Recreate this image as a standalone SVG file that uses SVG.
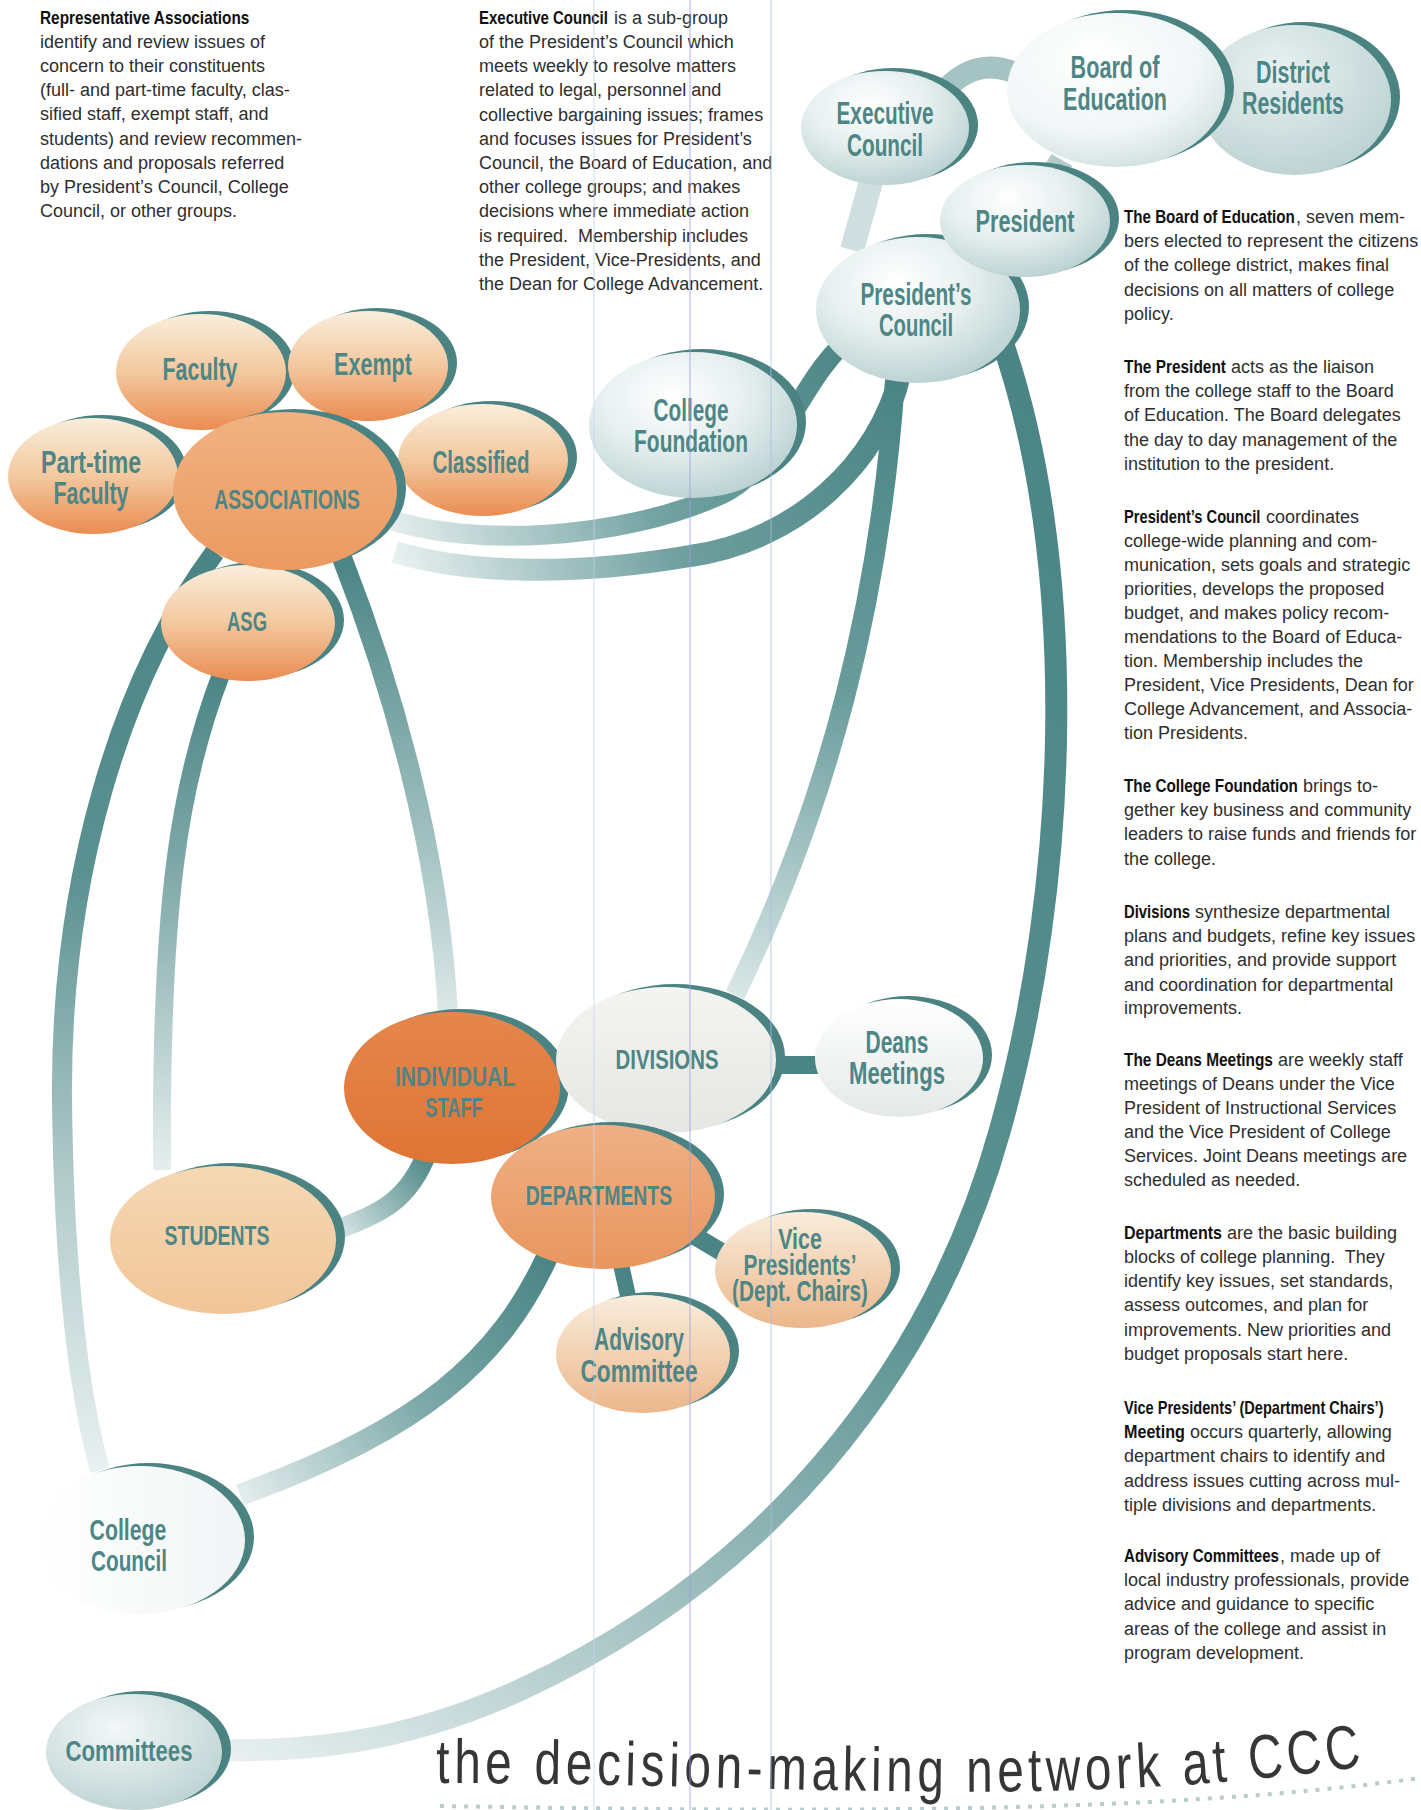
<svg xmlns="http://www.w3.org/2000/svg" width="1421" height="1810" viewBox="0 0 1421 1810">
<style>
.lbl{font-family:'Liberation Sans',Arial,sans-serif;font-weight:bold;fill:#4e8686;text-anchor:middle;font-size:32px}
.cap{font-size:28px}
.m30{font-size:30px}
.body{font-family:'Liberation Sans',Arial,sans-serif;font-size:18px;fill:#2e2e2e}
.hd{font-family:'Liberation Sans',Arial,sans-serif;font-size:18px;font-weight:bold;fill:#111}
.sh{fill:#4b8383}
.band{fill:none}
.guide{stroke-width:1;opacity:0.8}
</style>
<defs>
<linearGradient id="gOr" x1="0" y1="0" x2="0" y2="1"><stop offset="0" stop-color="#f9eedc"/><stop offset="0.5" stop-color="#f3c89e"/><stop offset="1" stop-color="#ea8c52"/></linearGradient>
<linearGradient id="gAssoc" x1="0" y1="0" x2="0" y2="1"><stop offset="0" stop-color="#f1b282"/><stop offset="1" stop-color="#eb9a60"/></linearGradient>
<linearGradient id="gIS" x1="0" y1="0" x2="0" y2="1"><stop offset="0" stop-color="#e5864c"/><stop offset="1" stop-color="#df7535"/></linearGradient>
<linearGradient id="gDept" x1="0" y1="0" x2="0" y2="1"><stop offset="0" stop-color="#efb085"/><stop offset="1" stop-color="#e9965e"/></linearGradient>
<linearGradient id="gStu" x1="0" y1="0" x2="0" y2="1"><stop offset="0" stop-color="#f5d8b4"/><stop offset="1" stop-color="#f1c597"/></linearGradient>
<linearGradient id="gVP" x1="0" y1="0" x2="0" y2="1"><stop offset="0" stop-color="#f9eddc"/><stop offset="1" stop-color="#ecb68a"/></linearGradient>
<radialGradient id="gTeal" cx="0.4" cy="0.3" r="0.8"><stop offset="0" stop-color="#ffffff"/><stop offset="0.45" stop-color="#e6efef"/><stop offset="1" stop-color="#b2cbcb"/></radialGradient>
<radialGradient id="gBoard" cx="0.4" cy="0.3" r="0.8"><stop offset="0" stop-color="#ffffff"/><stop offset="0.6" stop-color="#f1f6f6"/><stop offset="1" stop-color="#cadbdb"/></radialGradient>
<radialGradient id="gDist" cx="0.4" cy="0.3" r="0.8"><stop offset="0" stop-color="#e9f1f1"/><stop offset="1" stop-color="#b9cfcf"/></radialGradient>
<linearGradient id="gDiv" x1="0" y1="0" x2="0" y2="1"><stop offset="0" stop-color="#f4f4f1"/><stop offset="1" stop-color="#e5e7e2"/></linearGradient>
<linearGradient id="gDeans" x1="0" y1="0" x2="0" y2="1"><stop offset="0" stop-color="#ffffff"/><stop offset="1" stop-color="#e3e9e7"/></linearGradient>
<linearGradient id="gCC" x1="0" y1="0" x2="1" y2="0"><stop offset="0" stop-color="#ffffff"/><stop offset="1" stop-color="#f1f5f5"/></linearGradient>
<radialGradient id="gComm" cx="0.4" cy="0.3" r="0.8"><stop offset="0" stop-color="#f3f7f7"/><stop offset="1" stop-color="#b9d0d0"/></radialGradient>
<linearGradient id="bUp" gradientUnits="userSpaceOnUse" x1="860" y1="330" x2="385" y2="518"><stop offset="0" stop-color="#4a8484"/><stop offset="0.5" stop-color="#72a2a2"/><stop offset="1" stop-color="#e6eeee"/></linearGradient>
<linearGradient id="bLow" gradientUnits="userSpaceOnUse" x1="900" y1="375" x2="395" y2="552"><stop offset="0" stop-color="#4a8484"/><stop offset="0.5" stop-color="#6f9f9f"/><stop offset="1" stop-color="#e8f0f0"/></linearGradient>
<linearGradient id="bDiv" gradientUnits="userSpaceOnUse" x1="895" y1="380" x2="735" y2="995"><stop offset="0" stop-color="#4a8484"/><stop offset="0.5" stop-color="#6a9c9c"/><stop offset="1" stop-color="#d9e6e6"/></linearGradient>
<linearGradient id="bComm" gradientUnits="userSpaceOnUse" x1="1000" y1="335" x2="215" y2="1750"><stop offset="0" stop-color="#4a8484"/><stop offset="0.55" stop-color="#5a9191"/><stop offset="0.8" stop-color="#a6c3c3"/><stop offset="1" stop-color="#e8f0f0"/></linearGradient>
<linearGradient id="bLeft" gradientUnits="userSpaceOnUse" x1="0" y1="552" x2="0" y2="1470"><stop offset="0" stop-color="#4a8484"/><stop offset="0.35" stop-color="#5b9191"/><stop offset="0.7" stop-color="#b6cdcd"/><stop offset="1" stop-color="#e8f0f0"/></linearGradient>
<linearGradient id="bAsg" gradientUnits="userSpaceOnUse" x1="0" y1="672" x2="0" y2="1170"><stop offset="0" stop-color="#4a8484"/><stop offset="0.5" stop-color="#8fb3b3"/><stop offset="1" stop-color="#e6eeee"/></linearGradient>
<linearGradient id="bIs" gradientUnits="userSpaceOnUse" x1="0" y1="558" x2="0" y2="1015"><stop offset="0" stop-color="#4a8484"/><stop offset="0.55" stop-color="#98baba"/><stop offset="1" stop-color="#dde8e8"/></linearGradient>
<linearGradient id="bIsStu" gradientUnits="userSpaceOnUse" x1="428" y1="1150" x2="330" y2="1232"><stop offset="0" stop-color="#4a8484"/><stop offset="1" stop-color="#dfeaea"/></linearGradient>
<linearGradient id="bDeptCc" gradientUnits="userSpaceOnUse" x1="548" y1="1255" x2="240" y2="1495"><stop offset="0" stop-color="#4a8484"/><stop offset="0.5" stop-color="#7eaaaa"/><stop offset="1" stop-color="#e4eded"/></linearGradient>
</defs>
<rect width="1421" height="1810" fill="#ffffff"/>

<g id="connectors">
<path class="band" d="M 940,96 Q 975,52 1022,76" stroke="#a6c3c3" stroke-width="22"/>
<path class="band" d="M 1062,160 Q 1040,198 1008,215" stroke="#b3cbcb" stroke-width="24"/>
<path class="band" d="M 872,178 L 852,250" stroke="#cfdfdf" stroke-width="24"/>
<path class="band" d="M 860,330 C 800,370 780,470 720,495 C 620,540 470,548 385,518" stroke="url(#bUp)" stroke-width="20"/>
<path class="band" d="M 900,375 C 880,460 800,540 690,556 C 580,575 470,575 395,552" stroke="url(#bLow)" stroke-width="22"/>
<path class="band" d="M 895,380 C 880,600 830,800 735,995" stroke="url(#bDiv)" stroke-width="20"/>
<path class="band" d="M 1000,335 C 1080,560 1070,880 1000,1130 C 930,1380 760,1580 520,1690 C 400,1745 300,1752 215,1750" stroke="url(#bComm)" stroke-width="22"/>
<path class="band" d="M 215,552 C 120,680 60,880 62,1100 C 64,1280 80,1400 100,1470" stroke="url(#bLeft)" stroke-width="20"/>
<path class="band" d="M 222,672 C 180,780 160,900 162,1170" stroke="url(#bAsg)" stroke-width="18"/>
<path class="band" d="M 342,558 C 390,680 440,850 448,1015" stroke="url(#bIs)" stroke-width="20"/>
<path class="band" d="M 428,1150 C 410,1200 380,1215 330,1232" stroke="url(#bIsStu)" stroke-width="20"/>
<path class="band" d="M 548,1255 C 500,1360 420,1430 240,1495" stroke="url(#bDeptCc)" stroke-width="22"/>
<path class="band" d="M 765,1065 L 832,1065" stroke="#4a8484" stroke-width="18"/>
<path class="band" d="M 688,1232 L 740,1263" stroke="#4a8484" stroke-width="18"/>
<path class="band" d="M 620,1260 L 630,1305" stroke="#4a8484" stroke-width="16"/>
</g>

<g id="executive-council"><ellipse class="sh" cx="894" cy="125" rx="84" ry="57"/><ellipse cx="885" cy="128" rx="84" ry="57" fill="url(#gTeal)"/>
<text class="lbl" transform="matrix(0.649 0 0 1 885 124)">Executive</text><text class="lbl" transform="matrix(0.648 0 0 1 885 156)">Council</text></g>
<g id="district-residents"><ellipse class="sh" cx="1304" cy="97" rx="96" ry="75"/><ellipse cx="1295" cy="100" rx="96" ry="75" fill="url(#gDist)"/>
<text class="lbl" transform="matrix(0.671 0 0 1 1293 83)">District</text><text class="lbl" transform="matrix(0.667 0 0 1 1293 114)">Residents</text></g>
<g id="board-of-education"><ellipse class="sh" cx="1125" cy="87" rx="109" ry="77"/><ellipse cx="1116" cy="90" rx="109" ry="77" fill="url(#gBoard)"/>
<text class="lbl" transform="matrix(0.676 0 0 1 1115 78)">Board of</text><text class="lbl" transform="matrix(0.672 0 0 1 1115 110)">Education</text></g>
<g id="presidents-council"><ellipse class="sh" cx="927" cy="307" rx="102" ry="73"/><ellipse cx="918" cy="310" rx="102" ry="73" fill="url(#gTeal)"/>
<text class="lbl" transform="matrix(0.649 0 0 1 916 305)">President’s</text><text class="lbl" transform="matrix(0.631 0 0 1 916 336)">Council</text></g>
<g id="president"><ellipse class="sh" cx="1034" cy="218" rx="85" ry="56"/><ellipse cx="1025" cy="221" rx="85" ry="56" fill="url(#gTeal)"/>
<text class="lbl" transform="matrix(0.679 0 0 1 1025 232)">President</text></g>
<g id="college-foundation"><ellipse class="sh" cx="702" cy="422" rx="104" ry="73"/><ellipse cx="693" cy="425" rx="104" ry="73" fill="url(#gTeal)"/>
<text class="lbl" transform="matrix(0.649 0 0 1 691 421)">College</text><text class="lbl" transform="matrix(0.654 0 0 1 691 452)">Foundation</text></g>

<g id="faculty"><ellipse class="sh" cx="210" cy="369" rx="85" ry="58"/><ellipse cx="201" cy="372" rx="85" ry="58" fill="url(#gOr)"/>
<text class="lbl" transform="matrix(0.67 0 0 1 200 380)">Faculty</text></g>
<g id="exempt"><ellipse class="sh" cx="377" cy="363" rx="80" ry="55"/><ellipse cx="368" cy="366" rx="80" ry="55" fill="url(#gOr)"/>
<text class="lbl" transform="matrix(0.675 0 0 1 373 375)">Exempt</text></g>
<g id="part-time-faculty"><ellipse class="sh" cx="102" cy="473" rx="85" ry="58"/><ellipse cx="93" cy="476" rx="85" ry="58" fill="url(#gOr)"/>
<text class="lbl" transform="matrix(0.721 0 0 1 91 473)">Part-time</text><text class="lbl" transform="matrix(0.67 0 0 1 91 504)">Faculty</text></g>
<g id="classified"><ellipse class="sh" cx="492" cy="457" rx="85" ry="56"/><ellipse cx="483" cy="460" rx="85" ry="56" fill="url(#gOr)"/>
<text class="lbl" transform="matrix(0.642 0 0 1 481 473)">Classified</text></g>
<g id="asg"><ellipse class="sh" cx="257" cy="620" rx="87" ry="58"/><ellipse cx="248" cy="623" rx="87" ry="58" fill="url(#gOr)"/>
<text class="lbl cap" transform="matrix(0.659 0 0 1 247 631)">ASG</text></g>
<g id="associations"><ellipse class="sh" cx="294" cy="488" rx="112" ry="79"/><ellipse cx="285" cy="491" rx="112" ry="79" fill="url(#gAssoc)"/>
<text class="lbl cap" transform="matrix(0.69 0 0 1 287 509)">ASSOCIATIONS</text></g>

<g id="individual-staff"><ellipse class="sh" cx="461" cy="1085" rx="108" ry="76"/><ellipse cx="452" cy="1088" rx="108" ry="76" fill="url(#gIS)"/>
<text class="lbl cap" transform="matrix(0.749 0 0 1 455 1086)">INDIVIDUAL</text><text class="lbl cap" transform="matrix(0.654 0 0 1 454 1117)">STAFF</text></g>
<g id="divisions"><ellipse class="sh" cx="675" cy="1057" rx="110" ry="73"/><ellipse cx="666" cy="1060" rx="110" ry="73" fill="url(#gDiv)"/>
<text class="lbl cap" transform="matrix(0.727 0 0 1 667 1069)">DIVISIONS</text></g>
<g id="deans-meetings"><ellipse class="sh" cx="908" cy="1055" rx="84" ry="59"/><ellipse cx="899" cy="1058" rx="84" ry="59" fill="url(#gDeans)"/>
<text class="lbl" transform="matrix(0.656 0 0 1 897 1053)">Deans</text><text class="lbl" transform="matrix(0.692 0 0 1 897 1084)">Meetings</text></g>
<g id="departments"><ellipse class="sh" cx="612" cy="1194" rx="112" ry="72"/><ellipse cx="603" cy="1197" rx="112" ry="72" fill="url(#gDept)"/>
<text class="lbl cap" transform="matrix(0.694 0 0 1 599 1205)">DEPARTMENTS</text></g>
<g id="vice-presidents"><ellipse class="sh" cx="812" cy="1267" rx="88" ry="58"/><ellipse cx="803" cy="1270" rx="88" ry="58" fill="url(#gVP)"/>
<text class="lbl m30" transform="matrix(0.713 0 0 1 800 1249)">Vice</text><text class="lbl m30" transform="matrix(0.699 0 0 1 800 1275)">Presidents’</text><text class="lbl m30" transform="matrix(0.691 0 0 1 800 1301)">(Dept. Chairs)</text></g>
<g id="advisory-committee"><ellipse class="sh" cx="652" cy="1351" rx="87" ry="59"/><ellipse cx="643" cy="1354" rx="87" ry="59" fill="url(#gVP)"/>
<text class="lbl" transform="matrix(0.657 0 0 1 639 1350)">Advisory</text><text class="lbl" transform="matrix(0.708 0 0 1 639 1382)">Committee</text></g>
<g id="students"><ellipse class="sh" cx="232" cy="1237" rx="113" ry="74"/><ellipse cx="223" cy="1240" rx="113" ry="74" fill="url(#gStu)"/>
<text class="lbl cap" transform="matrix(0.696 0 0 1 217 1245)">STUDENTS</text></g>
<g id="college-council"><ellipse class="sh" cx="149" cy="1537" rx="105" ry="74"/><ellipse cx="140" cy="1540" rx="105" ry="74" fill="url(#gCC)"/>
<text class="lbl m30" transform="matrix(0.71 0 0 1 128 1540)">College</text><text class="lbl m30" transform="matrix(0.691 0 0 1 129 1571)">Council</text></g>
<g id="committees"><ellipse class="sh" cx="143" cy="1749" rx="88" ry="58"/><ellipse cx="134" cy="1752" rx="88" ry="58" fill="url(#gComm)"/>
<text class="lbl m30" transform="matrix(0.74 0 0 1 129 1761)">Committees</text></g>

<g id="text-associations">
<text class="hd" transform="matrix(0.854 0 0 1 40 24)">Representative Associations</text>
<text class="body" x="40" y="48">identify and review issues of</text>
<text class="body" x="40" y="72">concern to their constituents</text>
<text class="body" x="40" y="96">(full- and part-time faculty, clas-</text>
<text class="body" x="40" y="120">sified staff, exempt staff, and</text>
<text class="body" x="40" y="145">students) and review recommen-</text>
<text class="body" x="40" y="169">dations and proposals referred</text>
<text class="body" x="40" y="193">by President’s Council, College</text>
<text class="body" x="40" y="217">Council, or other groups.</text>
</g>
<g id="text-executive">
<text class="hd" transform="matrix(0.832 0 0 1 479 24)">Executive Council</text>
<text class="body" x="614" y="24">is a sub-group</text>
<text class="body" x="479" y="48">of the President’s Council which</text>
<text class="body" x="479" y="72">meets weekly to resolve matters</text>
<text class="body" x="479" y="96">related to legal, personnel and</text>
<text class="body" x="479" y="121">collective bargaining issues; frames</text>
<text class="body" x="479" y="145">and focuses issues for President’s</text>
<text class="body" x="479" y="169">Council, the Board of Education, and</text>
<text class="body" x="479" y="193">other college groups; and makes</text>
<text class="body" x="479" y="217">decisions where immediate action</text>
<text class="body" x="479" y="242">is required.&#160; Membership includes</text>
<text class="body" x="479" y="266">the President, Vice-Presidents, and</text>
<text class="body" x="479" y="290">the Dean for College Advancement.</text>
</g>
<g id="text-right">
<text class="hd" transform="matrix(0.842 0 0 1 1124 223)">The Board of Education</text>
<text class="body" x="1296" y="223">, seven mem-</text>
<text class="body" x="1124" y="247">bers elected to represent the citizens</text>
<text class="body" x="1124" y="271">of the college district, makes final</text>
<text class="body" x="1124" y="296">decisions on all matters of college</text>
<text class="body" x="1124" y="320">policy.</text>
<text class="hd" transform="matrix(0.857 0 0 1 1124 373)">The President</text>
<text class="body" x="1231" y="373">acts as the liaison</text>
<text class="body" x="1124" y="397">from the college staff to the Board</text>
<text class="body" x="1124" y="421">of Education. The Board delegates</text>
<text class="body" x="1124" y="446">the day to day management of the</text>
<text class="body" x="1124" y="470">institution to the president.</text>
<text class="hd" transform="matrix(0.815 0 0 1 1124 523)">President’s Council</text>
<text class="body" x="1266" y="523">coordinates</text>
<text class="body" x="1124" y="547">college-wide planning and com-</text>
<text class="body" x="1124" y="571">munication, sets goals and strategic</text>
<text class="body" x="1124" y="595">priorities, develops the proposed</text>
<text class="body" x="1124" y="619">budget, and makes policy recom-</text>
<text class="body" x="1124" y="643">mendations to the Board of Educa-</text>
<text class="body" x="1124" y="667">tion. Membership includes the</text>
<text class="body" x="1124" y="691">President, Vice Presidents, Dean for</text>
<text class="body" x="1124" y="715">College Advancement, and Associa-</text>
<text class="body" x="1124" y="739">tion Presidents.</text>
<text class="hd" transform="matrix(0.849 0 0 1 1124 792)">The College Foundation</text>
<text class="body" x="1303" y="792">brings to-</text>
<text class="body" x="1124" y="816">gether key business and community</text>
<text class="body" x="1124" y="840">leaders to raise funds and friends for</text>
<text class="body" x="1124" y="865">the college.</text>
<text class="hd" transform="matrix(0.825 0 0 1 1124 918)">Divisions</text>
<text class="body" x="1195" y="918">synthesize departmental</text>
<text class="body" x="1124" y="942">plans and budgets, refine key issues</text>
<text class="body" x="1124" y="966">and priorities, and provide support</text>
<text class="body" x="1124" y="991">and coordination for departmental</text>
<text class="body" x="1124" y="1014">improvements.</text>
<text class="hd" transform="matrix(0.856 0 0 1 1124 1066)">The Deans Meetings</text>
<text class="body" x="1278" y="1066">are weekly staff</text>
<text class="body" x="1124" y="1090">meetings of Deans under the Vice</text>
<text class="body" x="1124" y="1114">President of Instructional Services</text>
<text class="body" x="1124" y="1138">and the Vice President of College</text>
<text class="body" x="1124" y="1162">Services. Joint Deans meetings are</text>
<text class="body" x="1124" y="1186">scheduled as needed.</text>
<text class="hd" transform="matrix(0.891 0 0 1 1124 1239)">Departments</text>
<text class="body" x="1227" y="1239">are the basic building</text>
<text class="body" x="1124" y="1263">blocks of college planning.&#160; They</text>
<text class="body" x="1124" y="1287">identify key issues, set standards,</text>
<text class="body" x="1124" y="1311">assess outcomes, and plan for</text>
<text class="body" x="1124" y="1336">improvements. New priorities and</text>
<text class="body" x="1124" y="1360">budget proposals start here.</text>
<text class="hd" transform="matrix(0.81 0 0 1 1124 1414)">Vice Presidents’ (Department Chairs’)</text>
<text class="hd" transform="matrix(0.897 0 0 1 1124 1438)">Meeting</text>
<text class="body" x="1190" y="1438">occurs quarterly, allowing</text>
<text class="body" x="1124" y="1462">department chairs to identify and</text>
<text class="body" x="1124" y="1487">address issues cutting across mul-</text>
<text class="body" x="1124" y="1511">tiple divisions and departments.</text>
<text class="hd" transform="matrix(0.838 0 0 1 1124 1562)">Advisory Committees</text>
<text class="body" x="1280" y="1562">, made up of</text>
<text class="body" x="1124" y="1586">local industry professionals, provide</text>
<text class="body" x="1124" y="1610">advice and guidance to specific</text>
<text class="body" x="1124" y="1635">areas of the college and assist in</text>
<text class="body" x="1124" y="1659">program development.</text>
</g>

<g id="title">
<path id="titlePath" d="M 436,1783 C 800,1783 1050,1812 1380,1764" fill="none"/>
<path d="M 440,1806 C 800,1812 1150,1815 1421,1778" fill="none" stroke="#b9cccc" stroke-width="4" stroke-dasharray="4 8"/>
<text font-family="'Liberation Sans',Arial,sans-serif" font-size="62" letter-spacing="6" fill="#363636"><textPath href="#titlePath" textLength="932" lengthAdjust="spacingAndGlyphs">the decision-making network at CCC</textPath></text>
</g>

<g id="guides">
<line class="guide" x1="594" y1="0" x2="594" y2="1810" stroke="#c6d4ef"/>
<line class="guide" x1="690" y1="0" x2="690" y2="1810" stroke="#9ca0e3"/>
<line class="guide" x1="771" y1="0" x2="771" y2="1810" stroke="#a9bfe8"/>
</g>
</svg>
